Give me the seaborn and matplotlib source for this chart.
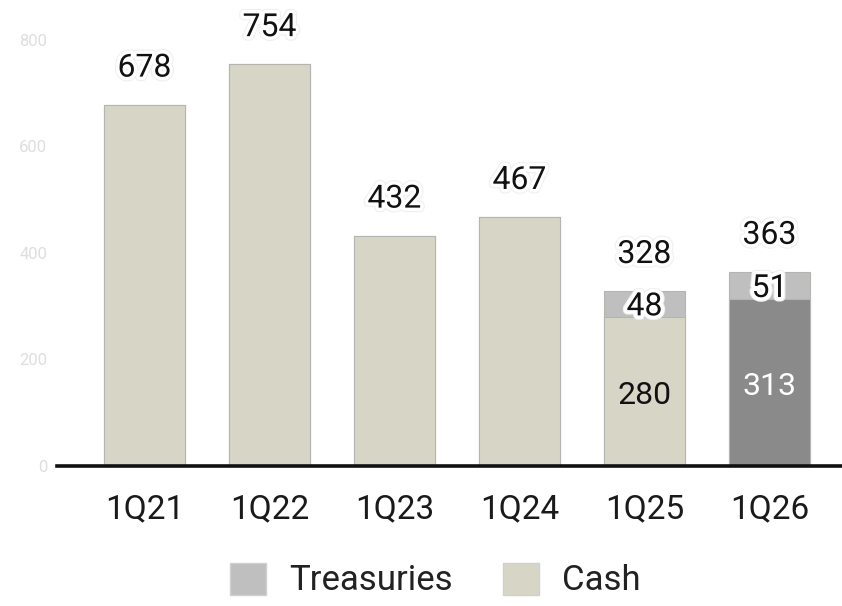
import matplotlib
matplotlib.use("Agg")
import matplotlib.pyplot as plt
import matplotlib.patheffects as pe
from matplotlib.patches import Patch
import seaborn as sns
import pandas as pd

quarters = ["1Q21", "1Q22", "1Q23", "1Q24", "1Q25", "1Q26"]
cash = [678, 754, 432, 467, 280, 313]
treasuries = [0, 0, 0, 0, 48, 51]
totals = [678, 754, 432, 467, 328, 363]
yticks = [0, 200, 400, 600, 800]

stack = [c + t for c, t in zip(cash, treasuries)]

sns.set_theme(style="white")
plt.rcParams["font.family"] = ["Roboto", "DejaVu Sans"]

CASH = "#d7d5c5"
CASH_LATEST = "#8a8a8a"
TREAS = "#c0bfc0"
EDGE = "#b4b4b0"

df = pd.DataFrame({"quarter": quarters, "cash": cash, "stack": stack})

fig = plt.figure(figsize=(8.42, 6.06), dpi=100)
ax = fig.add_axes([57 / 842, 140 / 606, 785 / 842, 466 / 606])

# Full stack height drawn in the treasuries colour, cash overlaid on top
sns.barplot(data=df, x="quarter", y="stack", color=TREAS, width=0.65,
            edgecolor=EDGE, linewidth=0.8, ax=ax, saturation=1)
cash_colors = [CASH] * 5 + [CASH_LATEST]
sns.barplot(data=df, x="quarter", y="cash", hue="quarter", palette=cash_colors,
            width=0.65, edgecolor=EDGE, linewidth=0.8, ax=ax, saturation=1,
            legend=False)

ax.set_xlim(-0.7, 5.58)
ax.set_ylim(0, 875)
ax.set_xlabel("")
ax.set_ylabel("")
ax.set_yticks(yticks)
ax.set_yticklabels([str(v) for v in yticks], color="#dedede", fontsize=12)
ax.tick_params(axis="y", length=0, pad=7)
ax.tick_params(axis="x", length=0, pad=20, labelsize=24, labelcolor="#1a1a1a")
for s in ["left", "right", "top"]:
    ax.spines[s].set_visible(False)
ax.spines["bottom"].set_color("#111111")
ax.spines["bottom"].set_linewidth(2.6)
ax.spines["bottom"].set_zorder(5)

halo = [pe.Stroke(linewidth=6.5, foreground="#efefef"),
        pe.Stroke(linewidth=5, foreground="white"), pe.Normal()]

# Totals above each bar
for i, tot in enumerate(totals):
    ax.annotate(str(tot), (i, stack[i]), xytext=(0, 26.5), textcoords="offset points",
                ha="center", va="center", fontsize=23, color="#111111",
                path_effects=halo)

# Segment values for the stacked quarters
for i, (c, t) in enumerate(zip(cash, treasuries)):
    if t > 0:
        ax.annotate(str(t), (i, c + t / 2), xytext=(0, -2), textcoords="offset points",
                    ha="center", va="center", fontsize=23, color="#111111",
                    path_effects=halo)
        ax.annotate(str(c), (i, c / 2), xytext=(0, -3), textcoords="offset points",
                    ha="center", va="center", fontsize=23,
                    color="white" if cash_colors[i] == CASH_LATEST else "#111111")

handles = [Patch(facecolor=TREAS, edgecolor="#d0d0d0", label="Treasuries"),
           Patch(facecolor=CASH, edgecolor="#d0d0d0", label="Cash")]
fig.legend(handles=handles, loc="center", bbox_to_anchor=(435 / 842, 1 - 580 / 606),
           ncol=2, frameon=False, fontsize=25, handlelength=1.05, handleheight=1.05,
           handletextpad=0.65, columnspacing=1.45, labelcolor="#222222")

fig.savefig("out.png", dpi=100)
